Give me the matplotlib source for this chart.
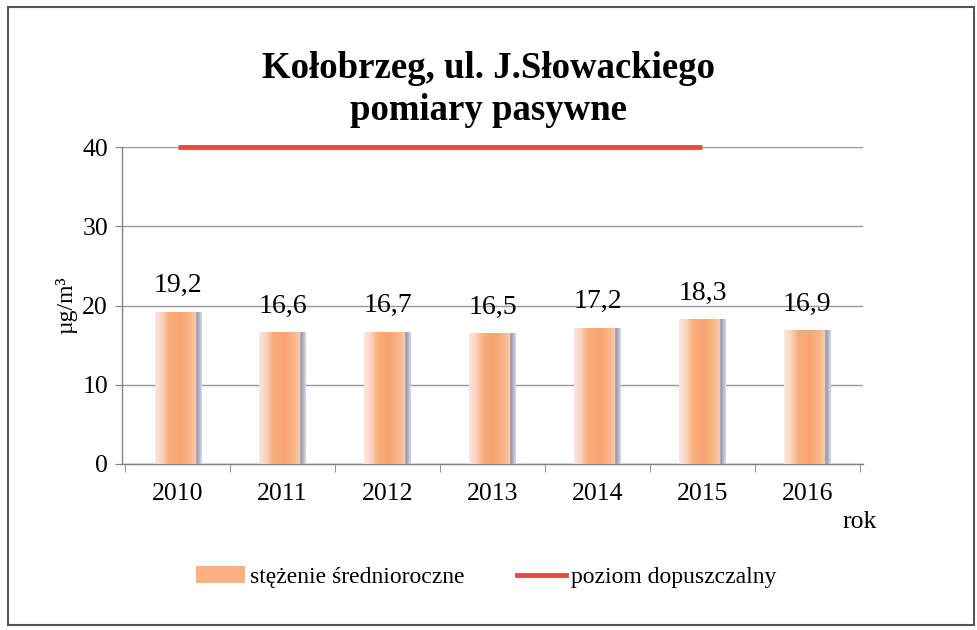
import numpy as np
import matplotlib.pyplot as plt
from matplotlib.colors import LinearSegmentedColormap
from matplotlib.patches import Rectangle
from matplotlib.lines import Line2D

years = ["2010", "2011", "2012", "2013", "2014", "2015", "2016"]
values = [19.2, 16.6, 16.7, 16.5, 17.2, 18.3, 16.9]
labels = ["19,2", "16,6", "16,7", "16,5", "17,2", "18,3", "16,9"]
limit_years = ["2010", "2011", "2012", "2013", "2014", "2015"]
limit_values = [40, 40, 40, 40, 40, 40]

plt.rcParams['font.family'] = ['Liberation Serif', 'DejaVu Serif']

fig = plt.figure(figsize=(9.77, 6.3), dpi=100)
ax = fig.add_axes([122 / 977, 1 - 464 / 630, 741 / 977, 317 / 630])

# gradient used for the bars (pink edge -> orange -> shadow)
bar_cmap = LinearSegmentedColormap.from_list("bar", [
    (0.0, "#fce6e0"), (0.15, "#fbd3c2"), (0.3, "#f9ae7a"), (0.55, "#f8a470"),
    (0.78, "#fab98e"), (0.87, "#f9cdb3"), (0.89, "#8f93ad"), (1.0, "#d8dae5")])

x = np.arange(len(years))
width = 0.44
bars = ax.bar(x, values, width, color="none", zorder=3)
grad = np.linspace(0, 1, 256).reshape(1, -1)
for b in bars:
    im = ax.imshow(grad, cmap=bar_cmap, aspect="auto", zorder=3,
                   extent=[b.get_x(), b.get_x() + b.get_width(), 0, b.get_height()])
    im.set_clip_path(Rectangle((b.get_x(), 0), b.get_width(), b.get_height(),
                               transform=ax.transData))

for xi, v, lab in zip(x, values, labels):
    ax.text(xi, v + 1.7, lab, ha="center", va="bottom", fontsize=20, zorder=4)

lx = [years.index(y) for y in limit_years]
ax.plot(lx, limit_values, color="#f04545", lw=3.5, solid_capstyle="butt",
        clip_on=False, zorder=5)

ax.set_xlim(-0.53, len(years) - 0.47)
ax.set_ylim(0, 40)
ax.set_yticks([0, 10, 20, 30, 40])
ax.set_xticks(x)
ax.set_xticklabels(years)
ax.set_xticks(np.arange(len(years) + 1) - 0.5, minor=True)
ax.tick_params(axis="x", which="major", length=0, labelsize=18.5, pad=14)
ax.tick_params(axis="x", which="minor", length=6, color="#7f8290", direction="out")
ax.tick_params(axis="y", length=5, color="#7f8290", labelsize=18.5, pad=5)
ax.yaxis.grid(True, color="#9497a8", lw=1.0, zorder=1)
ax.set_axisbelow(True)
for s in ["top", "right"]:
    ax.spines[s].set_visible(False)
for s in ["left", "bottom"]:
    ax.spines[s].set_color("#7f8290")
    ax.spines[s].set_linewidth(1.0)

ax.set_ylabel("µg/m³", fontsize=17, labelpad=4)

fig.text(0.5, 1 - 69 / 630, "Kołobrzeg, ul. J.Słowackiego", ha="center", va="center",
         fontsize=26.5, fontweight="bold")
fig.text(0.5, 1 - 111 / 630, "pomiary pasywne", ha="center", va="center",
         fontsize=26.5, fontweight="bold")
fig.text(860 / 977, 1 - 522 / 630, "rok", ha="center", va="center", fontsize=18.5)

handles = [Rectangle((0, 0), 1, 1, facecolor="#f9b183", edgecolor="none"),
           Line2D([0], [0], color="#f04545", lw=3.5)]
fig.legend(handles, ["stężenie średnioroczne", "poziom dopuszczalny"],
           loc="center", bbox_to_anchor=(486 / 977, 1 - 577 / 630), ncol=2,
           frameon=False, fontsize=17, handlelength=2.1, columnspacing=2.2,
           handletextpad=0.2)

fig.add_artist(Rectangle((8 / 977, 5 / 630), 966 / 977, 618 / 630, transform=fig.transFigure,
                         fill=False, edgecolor="#555555", lw=1.5))

fig.savefig("out.png", dpi=100)
